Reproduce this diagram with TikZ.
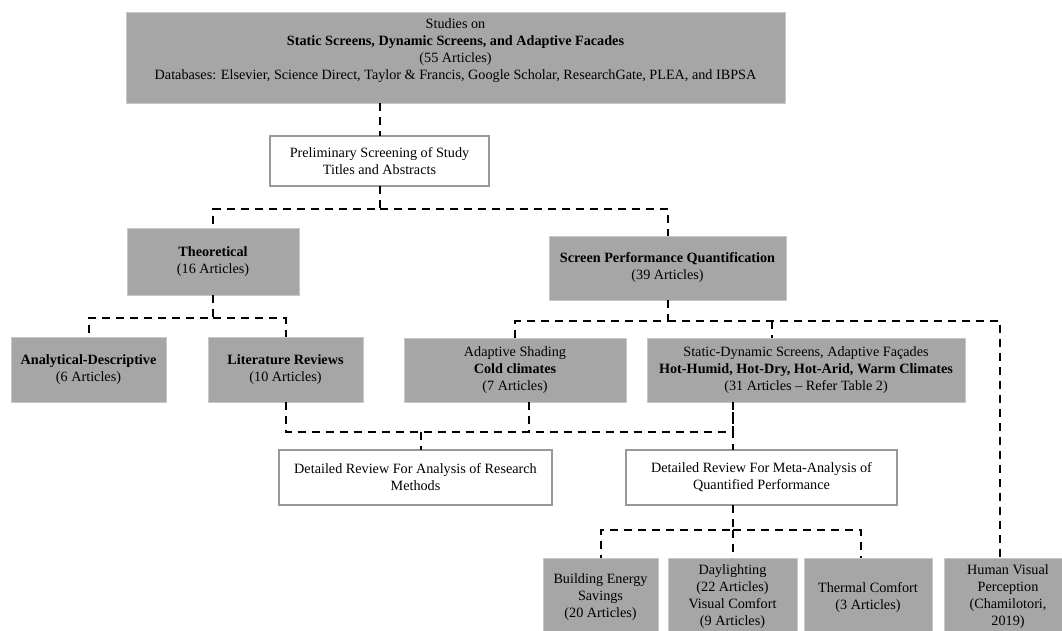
\documentclass[tikz,border=0pt]{standalone}
\usepackage{fontspec}
\setmainfont{Liberation Serif}
\usepackage{xcolor}
\usepackage{tikz}
\usetikzlibrary{positioning}

\begin{document}
\begin{tikzpicture}[font=\fontsize{14.2}{17}\selectfont, node distance=20pt and 20pt,
 gbox/.style={fill=black!35, draw=black!22, line width=0.6pt, align=center, inner sep=2pt, outer sep=0pt},
 wbox/.style={fill=white, draw=black!40, line width=1.5pt, align=center, inner sep=2pt, outer sep=0pt},
 link/.style={line width=2pt, dash pattern=on 8pt off 6pt}]
\useasboundingbox (0,0) rectangle (1062pt,-630pt);
\clip (0,0) rectangle (1062pt,-630pt);
\node[gbox, minimum width=659pt, minimum height=91pt] (top) at (455.5pt,-57.5pt) {Studies on\\\textbf{Static Screens, Dynamic Screens, and Adaptive Facades}\\(55 Articles)\\Databases: Elsevier, Science Direct, Taylor \& Francis, Google Scholar, ResearchGate, PLEA, and IBPSA\\\mbox{}};
\node[wbox, minimum width=219pt, minimum height=50pt, below=33pt of top, xshift=-76pt] (prelim) {Preliminary Screening of Study\\Titles and Abstracts};
\node[gbox, minimum width=172pt, minimum height=67pt, below=42pt of prelim, xshift=-166.5pt] (theo) {\textbf{Theoretical}\\(16 Articles)};
\node[gbox, minimum width=237pt, minimum height=64pt, below=50pt of prelim, xshift=288pt] (spq) {\textbf{Screen Performance Quantification}\\(39 Articles)};
\node[gbox, minimum width=155pt, minimum height=65pt, below=42pt of theo, xshift=-124.5pt] (anal) {\textbf{Analytical-Descriptive}\\(6 Articles)};
\node[gbox, minimum width=155pt, minimum height=65pt, right=42pt of anal] (lit) {\textbf{Literature Reviews}\\(10 Articles)};
\node[gbox, minimum width=222pt, minimum height=64pt, below=38pt of spq, xshift=-152.5pt] (adapt) {Adaptive Shading\\\textbf{Cold climates}\\(7 Articles)};
\node[gbox, minimum width=318pt, minimum height=64pt, right=21pt of adapt] (stat) {Static-Dynamic Screens, Adaptive Façades\\\textbf{Hot-Humid, Hot-Dry, Hot-Arid, Warm Climates}\\(31 Articles -- Refer Table 2)};
\node[wbox, minimum width=273pt, minimum height=55pt, below=48pt of lit, xshift=130pt] (res) {Detailed Review For Analysis of Research\\Methods};
\node[wbox, minimum width=271pt, minimum height=55pt, right=74pt of res] (meta) {Detailed Review For Meta-Analysis of\\Quantified Performance};
\node[gbox, minimum width=115pt, minimum height=78pt, below=53pt of meta, xshift=-161pt] (bes) {Building Energy\\Savings\\(20 Articles)};
\node[gbox, minimum width=129pt, minimum height=78pt, right=10pt of bes] (day) {Daylighting\\(22 Articles)\\Visual Comfort\\(9 Articles)};
\node[gbox, minimum width=128pt, minimum height=78pt, right=7pt of day] (therm) {Thermal Comfort\\(3 Articles)};
\node[gbox, minimum width=128pt, minimum height=78pt, right=12pt of therm] (hvp) {Human Visual\\Perception\\(Chamilotori,\\2019)};
% bus junctions
\coordinate[below=23pt of prelim] (j1);
\coordinate[below=23pt of theo] (j2);
\coordinate[below=21pt of spq] (j3);
\coordinate[below=30pt of lit] (j4);
\coordinate[below=25pt of meta, xshift=-28.5pt] (j5);
\draw[link] (top.south -| prelim.north) -- (prelim.north);
\draw[link] (prelim.south) -- (j1) -| (theo.north);
\draw[link] (j1) -| (spq.north);
\draw[link] (theo.south) -- (j2) -| (anal.north);
\draw[link] (j2) -| (lit.north);
\draw[link] (spq.south) -- (j3) -| (adapt.north);
\draw[link] (j3) -| ([xshift=-8pt]hvp.north);
\draw[link] ([xshift=-34pt]stat.north |- j3) -- ([xshift=-34pt]stat.north);
\draw[link] (lit.south) -- (j4) -| ([xshift=-73pt]stat.south);
\draw[link] ([xshift=14pt]adapt.south) -- ([xshift=14pt]adapt.south |- j4);
\draw[link] ([xshift=-73pt]stat.south) -- ([xshift=-28.5pt]meta.north);
\draw[link] ([xshift=5.5pt]res.north |- j4) -- ([xshift=5.5pt]res.north);
\draw[link] (meta.south -| j5) -- (j5) -| (bes.north);
\draw[link] (j5) -| ([xshift=-7pt]therm.north);
\draw[link] (j5 -| day.north) -- (day.north);
\end{tikzpicture}
\end{document}
